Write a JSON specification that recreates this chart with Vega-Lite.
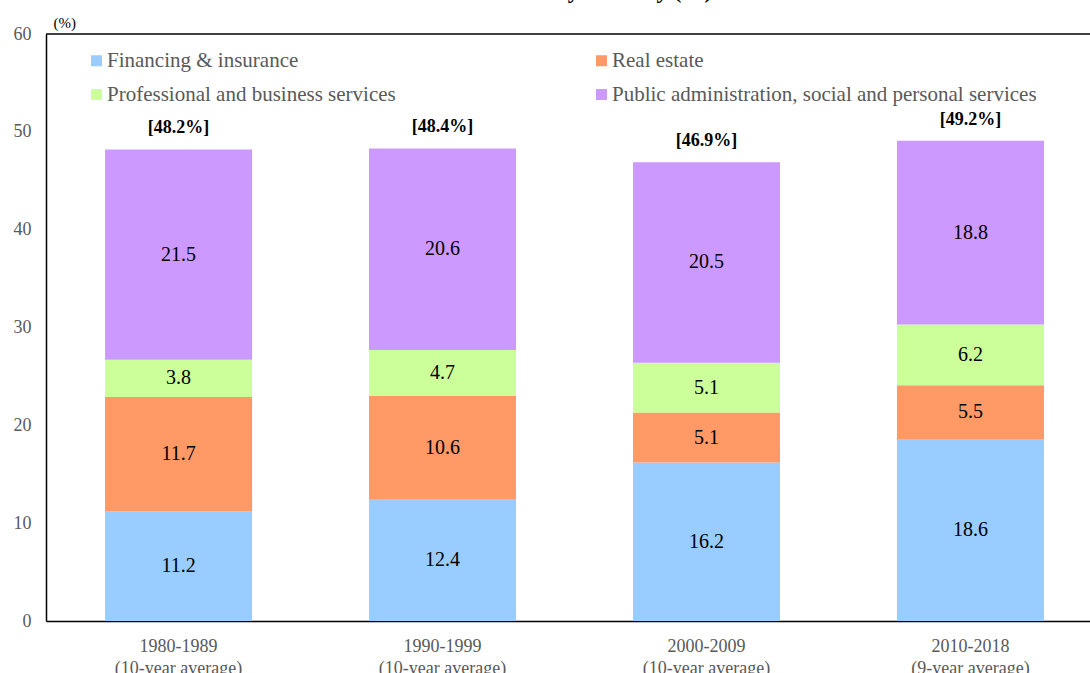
{
  "$schema": "https://vega.github.io/schema/vega-lite/v6.json",
  "width": 1044,
  "height": 587,
  "autosize": {"type": "none"},
  "padding": {"left": 46, "top": 34, "right": 0, "bottom": 52},
  "background": "white",
  "config": {
    "font": "Liberation Serif",
    "view": {"stroke": null}
  },
  "title": {
    "text": "Share of nominal GDP by industry (%)",
    "font": "Liberation Serif",
    "fontSize": 23,
    "fontWeight": "bold",
    "color": "#000000",
    "baseline": "alphabetic",
    "anchor": "middle",
    "frame": "group",
    "offset": -6,
    "dx": -48
  },
  "datasets": {
    "shares": [
      {"period": "1980-1989 (10-year average)", "segment": "Financing & insurance", "idx": 1, "share": 11.2},
      {"period": "1980-1989 (10-year average)", "segment": "Real estate", "idx": 2, "share": 11.7},
      {"period": "1980-1989 (10-year average)", "segment": "Professional and business services", "idx": 3, "share": 3.8},
      {"period": "1980-1989 (10-year average)", "segment": "Public administration, social and personal services", "idx": 4, "share": 21.5},
      {"period": "1990-1999 (10-year average)", "segment": "Financing & insurance", "idx": 1, "share": 12.4},
      {"period": "1990-1999 (10-year average)", "segment": "Real estate", "idx": 2, "share": 10.6},
      {"period": "1990-1999 (10-year average)", "segment": "Professional and business services", "idx": 3, "share": 4.7},
      {"period": "1990-1999 (10-year average)", "segment": "Public administration, social and personal services", "idx": 4, "share": 20.6},
      {"period": "2000-2009 (10-year average)", "segment": "Financing & insurance", "idx": 1, "share": 16.2},
      {"period": "2000-2009 (10-year average)", "segment": "Real estate", "idx": 2, "share": 5.1},
      {"period": "2000-2009 (10-year average)", "segment": "Professional and business services", "idx": 3, "share": 5.1},
      {"period": "2000-2009 (10-year average)", "segment": "Public administration, social and personal services", "idx": 4, "share": 20.5},
      {"period": "2010-2018 (9-year average)", "segment": "Financing & insurance", "idx": 1, "share": 18.6},
      {"period": "2010-2018 (9-year average)", "segment": "Real estate", "idx": 2, "share": 5.5},
      {"period": "2010-2018 (9-year average)", "segment": "Professional and business services", "idx": 3, "share": 6.2},
      {"period": "2010-2018 (9-year average)", "segment": "Public administration, social and personal services", "idx": 4, "share": 18.8}
    ],
    "totals": [
      {"period": "1980-1989 (10-year average)", "total": 48.2, "label": "[48.2%]"},
      {"period": "1990-1999 (10-year average)", "total": 48.3, "label": "[48.4%]"},
      {"period": "2000-2009 (10-year average)", "total": 46.9, "label": "[46.9%]"},
      {"period": "2010-2018 (9-year average)", "total": 49.1, "label": "[49.2%]"}
    ]
  },
  "layer": [
    {
      "data": {"name": "shares"},
      "mark": {"type": "bar"},
      "encoding": {
        "x": {
          "field": "period",
          "type": "nominal",
          "sort": null,
          "scale": {"paddingInner": 0.443, "paddingOuter": 0.199, "align": 0.562},
          "axis": {
            "title": null,
            "labelAngle": 0,
            "labelExpr": "[slice(datum.label, 0, 9), slice(datum.label, 10)]",
            "labelFont": "Liberation Serif",
            "labelFontSize": 18,
            "labelColor": "#595959",
            "labelLineHeight": 22,
            "labelPadding": 16,
            "ticks": false,
            "domain": true,
            "domainColor": "#000000",
            "domainWidth": 1.5,
            "grid": false
          }
        },
        "y": {
          "field": "share",
          "type": "quantitative",
          "stack": "zero",
          "scale": {"domain": [0, 60], "nice": false},
          "axis": {
            "title": "(%)",
            "titleAngle": 0,
            "titleAlign": "left",
            "titleBaseline": "middle",
            "titleX": 7,
            "titleY": -12,
            "titleFont": "Liberation Serif",
            "titleFontSize": 15,
            "titleFontWeight": "normal",
            "titleColor": "#000000",
            "values": [0, 10, 20, 30, 40, 50, 60],
            "labelFont": "Liberation Serif",
            "labelFontSize": 18,
            "labelColor": "#595959",
            "labelPadding": 15,
            "ticks": false,
            "domain": true,
            "domainColor": "#000000",
            "domainWidth": 1.5,
            "grid": false
          }
        },
        "color": {
          "field": "segment",
          "type": "nominal",
          "scale": {
            "domain": ["Financing & insurance", "Real estate", "Professional and business services", "Public administration, social and personal services"],
            "range": ["#99CCFF", "#FF9966", "#CCFF99", "#CC99FF"]
          },
          "legend": {
            "title": null,
            "orient": "none",
            "legendX": 40,
            "legendY": 16,
            "columns": 2,
            "columnPadding": 195,
            "rowPadding": 12,
            "padding": 0,
            "values": ["Financing & insurance", "Professional and business services", "Real estate", "Public administration, social and personal services"],
            "symbolType": "square",
            "symbolSize": 121,
            "symbolStrokeWidth": 0,
            "labelFont": "Liberation Serif",
            "labelFontSize": 21,
            "labelColor": "#595959",
            "labelOffset": 0,
            "labelLimit": 600
          }
        },
        "order": {"field": "idx", "type": "quantitative"}
      }
    },
    {
      "data": {"name": "shares"},
      "transform": [
        {"stack": "share", "groupby": ["period"], "sort": [{"field": "idx", "order": "ascending"}], "as": ["v0", "v1"]},
        {"fold": ["v0", "v1"], "as": ["k", "v"]}
      ],
      "mark": {"type": "text", "font": "Liberation Serif", "fontSize": 20, "color": "#000000", "baseline": "middle", "align": "center"},
      "encoding": {
        "x": {"field": "period", "type": "nominal", "sort": null},
        "y": {"field": "v", "type": "quantitative", "aggregate": "mean"},
        "detail": {"field": "segment", "type": "nominal"},
        "text": {"field": "share", "type": "quantitative", "format": ".1f"}
      }
    },
    {
      "data": {"name": "totals"},
      "mark": {"type": "text", "font": "Liberation Serif", "fontSize": 18, "fontWeight": "bold", "color": "#000000", "baseline": "middle", "align": "center", "dy": -21},
      "encoding": {
        "x": {"field": "period", "type": "nominal", "sort": null},
        "y": {"field": "total", "type": "quantitative"},
        "text": {"field": "label", "type": "nominal"}
      }
    },
    {
      "data": {"values": [{}]},
      "mark": {"type": "rule", "color": "#000000", "strokeWidth": 1.5},
      "encoding": {"y": {"datum": 60}}
    }
  ]
}
